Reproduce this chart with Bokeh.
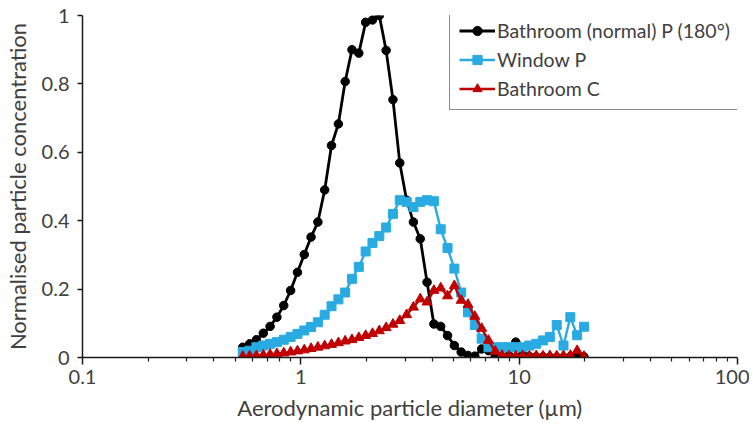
from bokeh.plotting import figure
from bokeh.models import (FixedTicker, CustomJSTickFormatter, Legend, LegendItem, Range1d)
from bokeh.embed import file_html
from bokeh.resources import INLINE

# APS channel midpoint diameters (µm)
diameter = [0.542, 0.583, 0.626, 0.673, 0.723, 0.777, 0.835, 0.898, 0.965, 1.037,
            1.114, 1.197, 1.286, 1.382, 1.486, 1.596, 1.715, 1.843, 1.981, 2.129,
            2.288, 2.458, 2.642, 2.839, 3.051, 3.278, 3.523, 3.786, 4.068, 4.371,
            4.698, 5.048, 5.425, 5.829, 6.264, 6.732, 7.234, 7.774, 8.354, 8.977,
            9.647, 10.37, 11.14, 11.97, 12.86, 13.82, 14.86, 15.96, 17.15, 18.43, 19.81]

bathroom_normal_p = [0.030, 0.040, 0.052, 0.071, 0.091, 0.118, 0.152, 0.196, 0.249, 0.301,
                     0.352, 0.396, 0.490, 0.620, 0.683, 0.807, 0.900, 0.890, 0.980, 0.987,
                     1.000, 0.898, 0.754, 0.569, 0.460, 0.396, 0.347, 0.220, 0.098, 0.091,
                     0.064, 0.035, 0.016, 0.006, 0.004, 0.025, 0.020, 0.004, 0.002, 0.006,
                     0.045, 0.008, 0.003, 0.002, 0.002, 0.001, 0.001, 0.001, 0.002, 0.004, 0.002]

window_p = [0.016, 0.020, 0.030, 0.035, 0.040, 0.045, 0.052, 0.060, 0.069, 0.079,
            0.089, 0.103, 0.125, 0.150, 0.170, 0.190, 0.230, 0.265, 0.310, 0.335,
            0.355, 0.380, 0.420, 0.460, 0.455, 0.440, 0.455, 0.460, 0.457, 0.375,
            0.320, 0.260, 0.190, 0.132, 0.095, 0.055, 0.030, 0.030, 0.030, 0.030,
            0.030, 0.030, 0.035, 0.040, 0.050, 0.060, 0.095, 0.035, 0.118, 0.065, 0.090]

bathroom_c = [0.003, 0.004, 0.005, 0.007, 0.009, 0.011, 0.013, 0.016, 0.019, 0.022,
              0.026, 0.030, 0.034, 0.038, 0.043, 0.048, 0.052, 0.058, 0.064, 0.070,
              0.078, 0.087, 0.097, 0.108, 0.125, 0.147, 0.171, 0.162, 0.196, 0.203,
              0.180, 0.210, 0.167, 0.155, 0.120, 0.085, 0.050, 0.018, 0.006, 0.004,
              0.004, 0.005, 0.004, 0.005, 0.004, 0.005, 0.004, 0.005, 0.006, 0.020, 0.003]

series_labels = ["Bathroom (normal) P (180°)", "Window P", "Bathroom C"]
x_ticks = [0.1, 1, 10, 100]
x_minor = [m * d for d in [0.1, 1, 10] for m in range(2, 10)]
y_ticks = [0, 0.2, 0.4, 0.6, 0.8, 1.0]

FONT = "Lato"
TXT = "#404040"

p = figure(frame_width=655, frame_height=342, x_axis_type="log",
           x_range=Range1d(0.1, 100), y_range=Range1d(0, 1),
           output_backend="svg", toolbar_location=None,
           min_border_left=70, min_border_top=15, min_border_right=12, min_border_bottom=64)

p.outline_line_color = None
p.xgrid.visible = False
p.ygrid.visible = False
p.background_fill_color = "white"
p.border_fill_color = "white"

# x axis
p.xaxis.ticker = FixedTicker(ticks=x_ticks, minor_ticks=x_minor)
p.xaxis.formatter = CustomJSTickFormatter(code="return tick < 1 ? tick.toFixed(1) : tick.toFixed(0);")
p.xaxis.axis_label = "Aerodynamic particle diameter (µm)"
p.xaxis.major_tick_out = 7
p.xaxis.major_tick_in = 0
p.xaxis.minor_tick_out = 4
p.xaxis.minor_tick_in = 0
p.xaxis.major_label_standoff = 5

# y axis
p.yaxis.ticker = FixedTicker(ticks=y_ticks, minor_ticks=[])
p.yaxis.formatter = CustomJSTickFormatter(code="return tick === 0 ? '0' : (Math.round(tick*10)/10).toString();")
p.yaxis.axis_label = "Normalised particle concentration"
p.yaxis.major_tick_out = 5
p.yaxis.major_tick_in = 0
p.yaxis.major_label_standoff = 8

for ax in (p.xaxis, p.yaxis):
    ax.axis_line_color = "#1a1a1a"
    ax.axis_line_width = 1.5
    ax.major_tick_line_color = "#1a1a1a"
    ax.major_tick_line_width = 1.5
    ax.minor_tick_line_color = "#1a1a1a"
    ax.minor_tick_line_width = 1.2
    ax.major_label_text_font = FONT
    ax.major_label_text_font_size = "20px"
    ax.major_label_text_color = TXT
    ax.axis_label_text_font = FONT
    ax.axis_label_text_font_size = "22px"
    ax.axis_label_text_font_style = "normal"
    ax.axis_label_text_color = TXT
p.yaxis.minor_tick_line_color = None
p.xaxis.axis_label_standoff = 7
p.yaxis.axis_label_standoff = 8

black = "#000000"
blue = "#29ABE2"
red = "#C00000"

l1 = p.line(diameter, bathroom_normal_p, line_color=black, line_width=2.8)
s1 = p.scatter(diameter, bathroom_normal_p, marker="circle", size=8.5,
               fill_color=black, line_color=black)
l2 = p.line(diameter, window_p, line_color=blue, line_width=2.4)
s2 = p.scatter(diameter, window_p, marker="square", size=9,
               fill_color=blue, line_color=blue)
l3 = p.line(diameter, bathroom_c, line_color=red, line_width=2.4)
s3 = p.scatter(diameter, bathroom_c, marker="triangle", size=10,
               fill_color=red, line_color=red)

legend = Legend(items=[
    LegendItem(label=series_labels[0], renderers=[l1, s1]),
    LegendItem(label=series_labels[1], renderers=[l2, s2]),
    LegendItem(label=series_labels[2], renderers=[l3, s3]),
], location=(367, 247))
legend.border_line_color = "#1a1a1a"
legend.border_line_width = 1.2
legend.background_fill_color = "white"
legend.background_fill_alpha = 1.0
legend.label_text_font = FONT
legend.label_text_font_size = "19.5px"
legend.label_text_color = TXT
legend.glyph_width = 36
legend.glyph_height = 23
legend.label_height = 23
legend.spacing = 6
legend.padding = 9
legend.label_standoff = 2
legend.margin = 0
p.add_layout(legend)

open("out.html", "w").write(file_html(p, INLINE))
